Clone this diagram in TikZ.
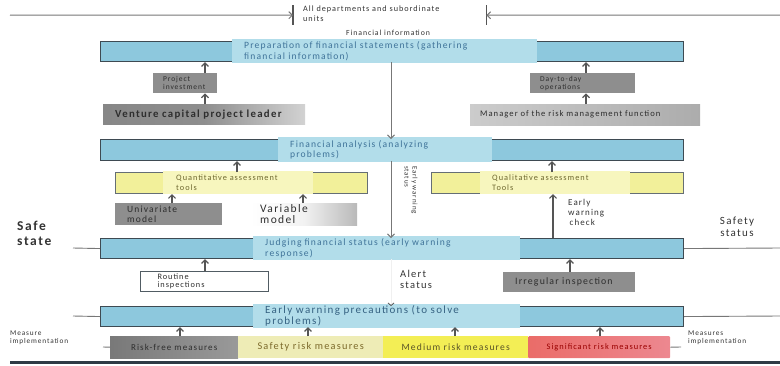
\documentclass[tikz,border=0pt]{standalone}
\usepackage{fontspec}
\setmainfont{Carlito}[LetterSpace=12]
\usetikzlibrary{arrows.meta}
\definecolor{boxblue}{HTML}{8DC8DD}
\definecolor{lightblue}{HTML}{B2DDEA}
\definecolor{edge}{HTML}{3E4A52}
\definecolor{bluetext}{HTML}{3F7399}
\definecolor{ylw}{HTML}{F2F09A}
\definecolor{ylwlight}{HTML}{F7F6BE}
\definecolor{ylwtext}{HTML}{6E6830}
\definecolor{grayfill}{HTML}{8E8E8E}
\definecolor{darktext}{HTML}{2E2E2E}
\definecolor{labeltext}{HTML}{333333}
\definecolor{safefill}{HTML}{EEECB6}
\definecolor{medfill}{HTML}{F3EE55}
\definecolor{sigfill}{HTML}{E86A74}
\definecolor{arrowgray}{HTML}{555555}
\definecolor{sepline}{HTML}{2F3B45}
\begin{document}
\begin{tikzpicture}[x=1pt,y=-1pt,
  bluebox/.style={draw=edge, line width=1.1pt, fill=boxblue, minimum width=583pt, minimum height=20pt, inner sep=0pt, anchor=north west},
  blueover/.style={fill=lightblue, anchor=north west, inner xsep=12pt, inner ysep=1pt, minimum height=24pt, align=left, text=bluetext, font=\fontsize{9.6}{10.5}\selectfont},
  graybox/.style={fill=grayfill, draw=none, anchor=north west, inner ysep=0pt, inner xsep=10pt, align=left, text=darktext, font=\fontsize{7.5}{8}\selectfont},
  ylwbox/.style={draw=edge!80, line width=1pt, fill=ylw, anchor=north west, minimum width=252pt, minimum height=21pt, inner sep=0pt},
  ylwover/.style={fill=ylwlight, anchor=north west, minimum height=23pt, inner ysep=1pt, inner xsep=13pt, align=left, text=ylwtext, font=\fontsize{8.3}{9.5}\selectfont},
  label/.style={align=left, text=labeltext, anchor=north west, inner sep=0pt},
  measure/.style={anchor=north west, minimum height=22pt, inner sep=0pt, draw=none},
  arr/.style={-{Straight Barb[length=3.5pt,width=7pt,line width=1.2pt]}, draw=arrowgray, line width=1.3pt},
  longarr/.style={-{Straight Barb[length=3.5pt,width=7pt]}, draw=arrowgray!80, line width=1pt},
  plain/.style={draw=arrowgray!80, line width=0.9pt}
]
\useasboundingbox (0,0) rectangle (780,365);

% top
\node[minimum width=193pt, minimum height=20pt, anchor=north west, inner sep=0pt] (ad) at (293,5) {};
\node[label, font=\fontsize{8.2}{9.5}\selectfont] (adt) at (303,6) {All departments and subordinate\\units};
\draw[line width=1.3pt, draw=arrowgray] (ad.north west) -- (ad.south west);
\draw[line width=1.3pt, draw=arrowgray] (ad.north east) -- (ad.south east);
\coordinate (ls) at (10,15);
\coordinate (rs) at (780,15);
\draw[longarr] (ls) -- (ad.west);
\draw[longarr] (rs) -- (ad.east);
\node[font=\fontsize{7.8}{9}\selectfont, text=labeltext] (fi) at (388,33) {Financial information};

% blue boxes
\node[bluebox] (b1) at (100,41) {};
\node[blueover, minimum width=305pt, text width=281pt] (b1t) at (232,39) {Preparation of financial statements (gathering\\financial information)};
\node[bluebox, minimum height=21pt] (b2) at (100,139) {};
\node[blueover, minimum width=214pt, text width=190pt, minimum height=25pt] (b2t) at (278,137) {Financial analysis (analyzing\\problems)};
\node[bluebox] (b3) at (100,238) {};
\node[blueover, minimum width=267pt, text width=243pt] (b3t) at (253,236) {Judging financial status (early warning\\response)};
\node[bluebox] (b4) at (100,306) {};
\node[blueover, minimum width=267pt, text width=243pt, font=\fontsize{11}{11}\selectfont, text=bluetext!85!black] (b4t) at (253,304) {Early warning precautions (to solve\\problems)};

% upper gray boxes
\node[graybox, minimum width=64pt, minimum height=20pt, text width=44pt] (proj) at (153,73) {Project\\investment};
\node[graybox, minimum width=202pt, minimum height=20pt, inner xsep=12pt, text width=178pt, left color=grayfill!95!black, right color=gray!35, middle color=grayfill, font=\bfseries\fontsize{10.8}{11}\selectfont] (vcl) at (103,104) {Venture capital project leader};
\node[graybox, minimum width=105pt, minimum height=20pt, text width=85pt] (day) at (530,73) {Day-to-day\\operations};
\node[graybox, minimum width=230pt, minimum height=21pt, text width=210pt, left color=gray!40, middle color=gray!30, right color=gray!65, font=\fontsize{8.6}{9}\selectfont] (mgr) at (470,104) {Manager of the risk management function};

\draw[arr] (proj.north -| 205,0) -- (b1.south -| 205,0);
\draw[arr] (vcl.north -| 205,0) -- (proj.south -| 205,0);
\draw[arr] (day.north -| 586,0) -- (b1.south -| 586,0);
\draw[arr] (mgr.north -| 586,0) -- (day.south -| 586,0);
\draw[longarr] (b1.south -| 391,0) -- (b2.north -| 391,0);

% assessment tools
\node[ylwbox] (quant) at (115,172) {};
\node[ylwover, minimum width=150pt, text width=124pt] (quantt) at (163,171) {Quantitative assessment\\tools};
\node[ylwbox] (qual) at (431,172) {};
\node[ylwover, minimum width=150pt, text width=126pt, inner xsep=12pt] (qualt) at (480,171) {Qualitative assessment\\Tools};
\draw[arr] (quant.north -| 237,0) -- (b2.south -| 237,0);
\draw[arr] (qual.north -| 552,0) -- (b2.south -| 552,0);

\node[graybox, minimum width=107pt, minimum height=22pt, inner xsep=12pt, text width=83pt, font=\fontsize{9.5}{10}\selectfont] (uni) at (115,203) {Univariate\\model};
\node[graybox, minimum width=107pt, minimum height=22pt, inner xsep=10pt, text width=87pt, left color=white, right color=gray!55, middle color=white!90!gray, font=\fontsize{11.5}{11.5}\selectfont] (var) at (250,203) {Variable\\model};
\draw[arr] (uni.north -| 172,0) -- (quant.south -| 172,0);
\draw[arr] (var.north -| 303,0) -- (quant.south -| 303,0);

\draw[longarr] (b2.south -| 391,0) -- (b3.north -| 391,0);
\node[rotate=-90, align=left, text=labeltext, font=\fontsize{7}{8}\selectfont] (ews) at (411,190) {Early warning\\status};

\draw[arr] (b3.north -| 553,0) -- (qual.south -| 553,0);
\node[label, font=\fontsize{9}{10}\selectfont] (ewc) at (568,199) {Early\\warning\\\,check};

% side labels
\node[label, font=\bfseries\fontsize{13.5}{15}\selectfont] (safe) at (17,221) {Safe\\state};
\coordinate (sl) at (73,248);
\draw[plain] (sl) -- (b3.west);
\node[align=center, text=labeltext, font=\fontsize{11}{12}\selectfont] (safety) at (737,227) {Safety\\status};
\coordinate (sr1) at (780,248);
\draw[plain] (b3.east) -- (sr1);
\coordinate (sl2) at (73,316);
\draw[plain] (sl2) -- (b4.west);
\coordinate (sr2) at (780,316);
\draw[plain] (b4.east) -- (sr2);

% inspections
\node[draw=edge!90, line width=1pt, fill=white, anchor=north west, minimum width=128pt, minimum height=20pt, inner xsep=17pt, inner ysep=0pt, text width=94pt, align=left, text=darktext, font=\fontsize{8.3}{8.5}\selectfont] (rout) at (140,271) {Routine\\inspections};
\node[graybox, minimum width=132pt, minimum height=20pt, inner xsep=12pt, text width=108pt, font=\fontsize{9.8}{10}\selectfont] (irr) at (503,272) {Irregular inspection};
\draw[arr] (rout.north -| 205,0) -- (b3.south -| 205,0);
\draw[arr] (irr.north -| 570,0) -- (b3.south -| 570,0);
\node[label, font=\fontsize{10.5}{11.5}\selectfont] (alert) at (400,270) {Alert\\status};
\draw[-{Straight Barb[length=2.5pt,width=6pt,color=arrowgray]}, draw=gray!12, line width=0.8pt] (b3.south -| 391,0) -- (b4.north -| 391,0);

% measures
\node[label, font=\fontsize{7.3}{7.5}\selectfont] (mil) at (10,331) {Measure\\implementation};
\node[label, font=\fontsize{7.3}{7.5}\selectfont] (mir) at (688,331) {Measures\\implementation};
\node[measure, minimum width=128pt, left color=grayfill!85!black, right color=grayfill!90, text=darktext, font=\fontsize{9}{9}\selectfont] (rf) at (110,336) {Risk-free measures};
\node[measure, minimum width=145pt, fill=safefill, text=ylwtext!90!orange, font=\fontsize{10.3}{10}\selectfont] (srm) at (238,336) {Safety risk measures};
\node[measure, minimum width=145pt, fill=medfill, text=ylwtext!80!black, font=\fontsize{9.6}{10}\selectfont] (mr) at (383,336) {Medium risk measures};
\node[measure, minimum width=142pt, left color=sigfill!90!orange, right color=sigfill!80, rounded corners=1pt, text=red!60!black, font=\fontsize{8.4}{9}\selectfont] (sig) at (528,336) {Significant risk measures};
\coordinate (mls) at (103,347);
\draw[plain] (mls) -- (rf.west);
\coordinate (mre) at (681,347);
\draw[plain] (sig.east) -- (mre);
\draw[arr] (rf.north -| 180,0) -- (b4.south -| 180,0);
\draw[arr] (srm.north -| 308,0) -- (b4.south -| 308,0);
\draw[arr] (mr.north -| 455,0) -- (b4.south -| 455,0);
\draw[arr] (sig.north -| 600,0) -- (b4.south -| 600,0);

% bottom separator
\fill[sepline] (10,361) rectangle (780,364);
\end{tikzpicture}
\end{document}
